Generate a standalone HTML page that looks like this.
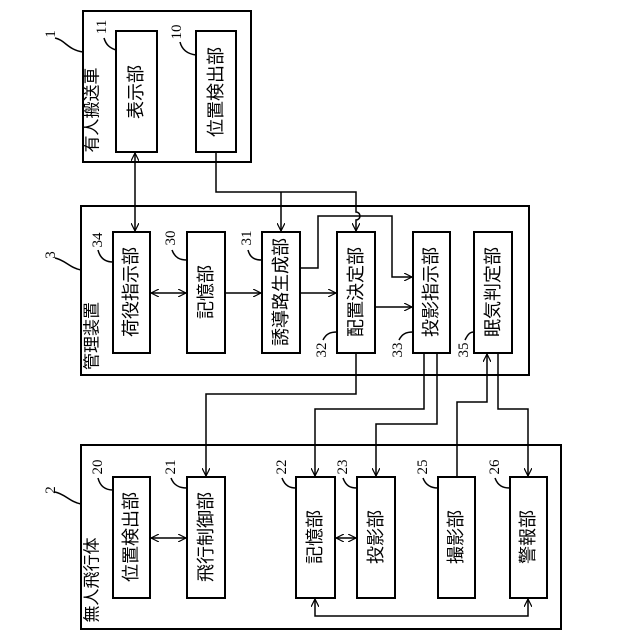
<!DOCTYPE html>
<html><head><meta charset="utf-8"><style>html,body{margin:0;padding:0;background:#fff}svg{display:block}</style></head>
<body>
<svg width="640" height="640" viewBox="0 0 640 640" xmlns="http://www.w3.org/2000/svg">
<defs>
<marker id="a" viewBox="0 0 10 10" refX="10" refY="5" markerWidth="8" markerHeight="8" orient="auto-start-reverse" markerUnits="userSpaceOnUse">
<path d="M0,0 L10,5 L0,10" fill="none" stroke="#000" stroke-width="1.5"/></marker>
</defs>
<g fill="none" stroke="#000" stroke-width="2">
<rect x="83" y="11" width="168" height="151"/>
<rect x="116" y="31" width="41" height="121"/>
<rect x="196" y="31" width="40" height="121"/>
<rect x="81" y="206" width="448" height="169"/>
<rect x="113" y="232" width="37" height="121"/>
<rect x="187" y="232" width="38" height="121"/>
<rect x="262" y="232" width="38" height="121"/>
<rect x="337" y="232" width="38" height="121"/>
<rect x="413" y="232" width="37" height="121"/>
<rect x="474" y="232" width="38" height="121"/>
<rect x="81" y="445" width="480" height="184"/>
<rect x="113" y="477" width="37" height="121"/>
<rect x="187" y="477" width="38" height="121"/>
<rect x="296" y="477" width="39" height="121"/>
<rect x="357" y="477" width="38" height="121"/>
<rect x="438" y="477" width="37" height="121"/>
<rect x="510" y="477" width="37" height="121"/>
</g>
<g fill="none" stroke="#000" stroke-width="1.5">
<path d="M135,153 V231" marker-start="url(#a)" marker-end="url(#a)"/>
<path d="M216,152 V192 H356 V212 a4,4 0 0 1 0,8 V231" marker-end="url(#a)"/>
<path d="M281,192 V231" marker-end="url(#a)"/>
<path d="M300,268 H318 V216 H392 V277 H412" marker-end="url(#a)"/>
<path d="M151,293 H186" marker-start="url(#a)" marker-end="url(#a)"/>
<path d="M225,293 H261" marker-end="url(#a)"/>
<path d="M300,293 H336" marker-end="url(#a)"/>
<path d="M375,307 H412" marker-end="url(#a)"/>
<path d="M356,353 V394 H206 V476" marker-end="url(#a)"/>
<path d="M424,353 V409 H315 V476" marker-end="url(#a)"/>
<path d="M437,353 V424 H376 V476" marker-end="url(#a)"/>
<path d="M457,477 V402 H487 V354" marker-end="url(#a)"/>
<path d="M498,353 V409 H528 V476" marker-end="url(#a)"/>
<path d="M151,538 H186" marker-start="url(#a)" marker-end="url(#a)"/>
<path d="M336,538 H356" marker-start="url(#a)" marker-end="url(#a)"/>
<path d="M315,599 V616 H528 V599" marker-start="url(#a)" marker-end="url(#a)"/>
<path d="M55,38 C65,40 68,50 83,52"/>
<path d="M104,38 C106,45 110,48 116,50"/>
<path d="M180,42 C182,50 188,54 196,55"/>
<path d="M55,258 C65,260 70,268 81,270"/>
<path d="M98,250 C100,258 105,262 113,262"/>
<path d="M172,250 C175,258 180,260 187,260"/>
<path d="M248,250 C250,258 255,260 262,260"/>
<path d="M323,340 C326,334 330,332 337,332"/>
<path d="M399,340 C402,334 406,332 413,332"/>
<path d="M465,340 C468,334 470,332 474,332"/>
<path d="M55,492 C65,494 70,502 81,504"/>
<path d="M98,478 C100,486 105,490 113,490"/>
<path d="M171,478 C174,486 180,488 187,488"/>
<path d="M282,478 C285,486 290,488 296,488"/>
<path d="M343,478 C346,486 350,488 357,488"/>
<path d="M423,478 C426,486 432,488 438,488"/>
<path d="M495,478 C498,486 503,488 510,488"/>
</g>
<g font-family="'Liberation Sans','Noto Sans CJK JP',sans-serif" font-size="18" text-anchor="middle" dominant-baseline="central" fill="#000">
<text transform="translate(136,92) rotate(-90)">表示部</text>
<text transform="translate(216,92) rotate(-90)">位置検出部</text>
<text transform="translate(92,110) rotate(-90)" font-size="17">有人搬送車</text>
<text transform="translate(131,292) rotate(-90)">荷役指示部</text>
<text transform="translate(206,292) rotate(-90)">記憶部</text>
<text transform="translate(281,292) rotate(-90)">誘導路生成部</text>
<text transform="translate(356,292) rotate(-90)">配置決定部</text>
<text transform="translate(431,292) rotate(-90)">投影指示部</text>
<text transform="translate(493,292) rotate(-90)">眠気判定部</text>
<text transform="translate(92,336) rotate(-90)" font-size="17">管理装置</text>
<text transform="translate(131,537) rotate(-90)">位置検出部</text>
<text transform="translate(206,537) rotate(-90)">飛行制御部</text>
<text transform="translate(315,537) rotate(-90)">記憶部</text>
<text transform="translate(376,537) rotate(-90)">投影部</text>
<text transform="translate(456,537) rotate(-90)">撮影部</text>
<text transform="translate(528,537) rotate(-90)">警報部</text>
<text transform="translate(92,580) rotate(-90)" font-size="17">無人飛行体</text>
</g>
<g font-family="'Liberation Serif',serif" font-size="15" text-anchor="middle" dominant-baseline="central" fill="#000">
<text transform="translate(51,34) rotate(-90)">1</text>
<text transform="translate(102,27) rotate(-90)">11</text>
<text transform="translate(177,32) rotate(-90)">10</text>
<text transform="translate(51,255) rotate(-90)">3</text>
<text transform="translate(98,240) rotate(-90)">34</text>
<text transform="translate(171,238) rotate(-90)">30</text>
<text transform="translate(247,238) rotate(-90)">31</text>
<text transform="translate(322,350) rotate(-90)">32</text>
<text transform="translate(398,350) rotate(-90)">33</text>
<text transform="translate(464,350) rotate(-90)">35</text>
<text transform="translate(51,490) rotate(-90)">2</text>
<text transform="translate(98,467) rotate(-90)">20</text>
<text transform="translate(171,467) rotate(-90)">21</text>
<text transform="translate(282,467) rotate(-90)">22</text>
<text transform="translate(343,467) rotate(-90)">23</text>
<text transform="translate(423,467) rotate(-90)">25</text>
<text transform="translate(495,467) rotate(-90)">26</text>
</g>
</svg>
</body></html>
